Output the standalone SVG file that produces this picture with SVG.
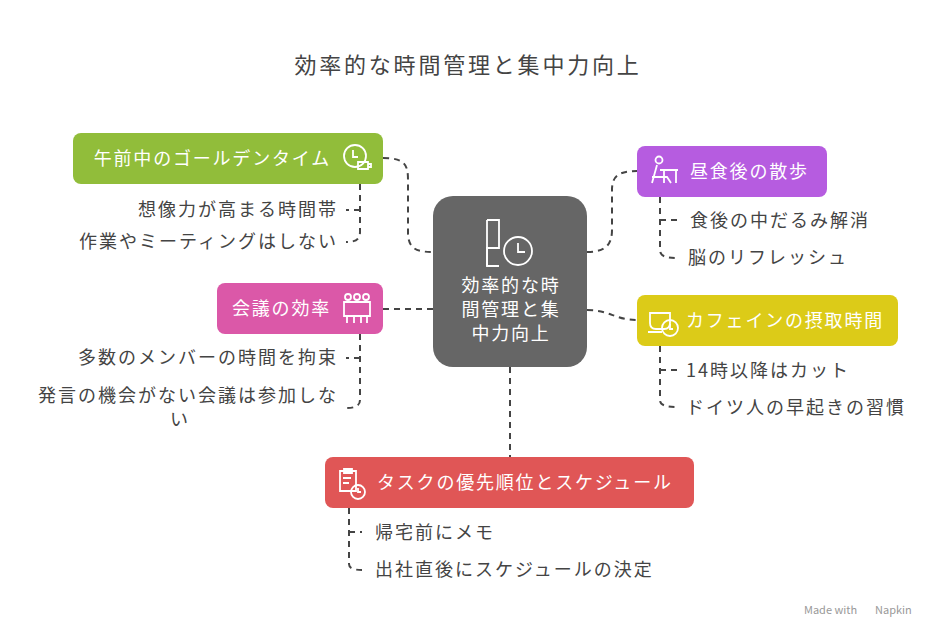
<svg xmlns="http://www.w3.org/2000/svg" width="936" height="640" viewBox="0 0 936 640">
<style>
text{font-family:"Noto Sans CJK JP","Noto Sans",sans-serif}
.t{font-size:18px;fill:#fff;letter-spacing:1.8px}
.s{font-size:18px;fill:#444;letter-spacing:2px}
.c path{fill:none;stroke:#444;stroke-width:2;stroke-dasharray:6 5}
.i{fill:none;stroke:#fff;stroke-width:1.8}
</style>
<rect width="936" height="640" fill="#fff"/>
<text x="468" y="73" text-anchor="middle" font-size="22" fill="#444" letter-spacing="2.8">効率的な時間管理と集中力向上</text>
<g class="c">
<path d="M383,158 C405,158 408,165 408,180 V232 C408,248 415,252 433,252"/>
<path d="M383,309 H433"/>
<path d="M587,252 C605,252 612,245 612,230 V190 C612,175 620,171 637,171"/>
<path d="M587,310 C610,310 615,320 637,320"/>
<path d="M510,367 V457"/>
<path d="M360,184 V232 C360,240 355,242 346,242"/>
<path d="M360,210 H346"/>
<path d="M360,334 V400 C360,406 355,408 346,408"/>
<path d="M360,358 H346"/>
<path d="M660,197 V250 C660,256 665,258 678,258"/>
<path d="M660,220 H678"/>
<path d="M660,346 V400 C660,405 665,407 678,407"/>
<path d="M660,370 H678"/>
<path d="M349,508 V564 C349,568 353,570 362,570"/>
<path d="M349,532 H362"/>
</g>
<g id="center">
<rect x="433" y="196" width="154" height="171" rx="20" fill="#666"/>
<path class="i" d="M487,220 H499 V248 H487 V266 H499" />
<path class="i" d="M487,220 V266"/>
<circle class="i" cx="518" cy="251" r="14"/>
<path class="i" d="M518,243 V252 H525"/>
<text class="t" text-anchor="middle" letter-spacing="2"><tspan x="511" y="292">効率的な時</tspan><tspan x="511" y="316">間管理と集</tspan><tspan x="511" y="340">中力向上</tspan></text>
</g>
<g id="n1">
<rect x="73" y="133" width="310" height="51" rx="8" fill="#91bd3a"/>
<text class="t" x="331" y="165" text-anchor="end">午前中のゴールデンタイム</text>
<circle class="i" cx="355" cy="156" r="11"/><path class="i" d="M353,150 V157 H358 M358,162 h10 v7 h-10 z M368,164 h3 v3 h-3"/>
<text class="s" x="338" y="216" text-anchor="end">想像力が高まる時間帯</text>
<text class="s" x="338" y="248" text-anchor="end">作業やミーティングはしない</text>
</g>
<g id="n2">
<rect x="217" y="283" width="166" height="51" rx="8" fill="#db58a8"/>
<text class="t" x="331" y="315" text-anchor="end">会議の効率</text>
<path class="i" d="M344,302 h26 v14 h-26 z M347,316 v7 M354,316 v7 M361,316 v7 M367,316 v7"/>
<circle class="i" cx="348" cy="297" r="3"/><circle class="i" cx="357" cy="297" r="3"/><circle class="i" cx="366" cy="297" r="3"/>
<text class="s" x="338" y="364" text-anchor="end">多数のメンバーの時間を拘束</text>
<text class="s" x="338" y="402" text-anchor="end">発言の機会がない会議は参加しな</text>
<text class="s" x="180" y="426" text-anchor="middle">い</text>
</g>
<g id="n3">
<rect x="637" y="146" width="190" height="51" rx="8" fill="#b65ce0"/>
<circle class="i" cx="659" cy="160" r="3.5"/>
<path class="i" d="M657,165 l-5,18 M652,177 h15 l4,6 M660,170 h18 M664,170 v13 M676,170 v13"/>
<text class="t" x="690" y="178">昼食後の散歩</text>
<text class="s" x="690" y="227">食後の中だるみ解消</text>
<text class="s" x="688" y="264">脳のリフレッシュ</text>
</g>
<g id="n4">
<rect x="637" y="295" width="261" height="51" rx="8" fill="#dccb18"/>
<path class="i" d="M650,313 h20 v10 q0,6 -6,6 h-8 q-6,0 -6,-6 z M648,332 h14"/>
<circle class="i" cx="670" cy="328" r="8" fill="#dccb18"/><path class="i" d="M670,324 v5 h3"/>
<text class="t" x="686" y="327">カフェインの摂取時間</text>
<text class="s" x="686" y="377">14時以降はカット</text>
<text class="s" x="686" y="414">ドイツ人の早起きの習慣</text>
</g>
<g id="n5">
<rect x="325" y="457" width="369" height="51" rx="8" fill="#e05656"/>
<path class="i" d="M340,471 h16 v20 h-16 z M344,469 h8 v4 h-8 z M343,478 h8 M343,483 h6"/>
<circle class="i" cx="358" cy="492" r="7" fill="#e05656"/><path class="i" d="M358,488 v4 h3"/>
<text class="t" x="377" y="489">タスクの優先順位とスケジュール</text>
<text class="s" x="375" y="539">帰宅前にメモ</text>
<text class="s" x="375" y="576">出社直後にスケジュールの決定</text>
</g>
<text x="804" y="614" font-size="11" fill="#999" font-family="Noto Sans,sans-serif">Made with</text>
<text x="875" y="614" font-size="11" fill="#999" font-family="Noto Sans,sans-serif">Napkin</text>
</svg>
